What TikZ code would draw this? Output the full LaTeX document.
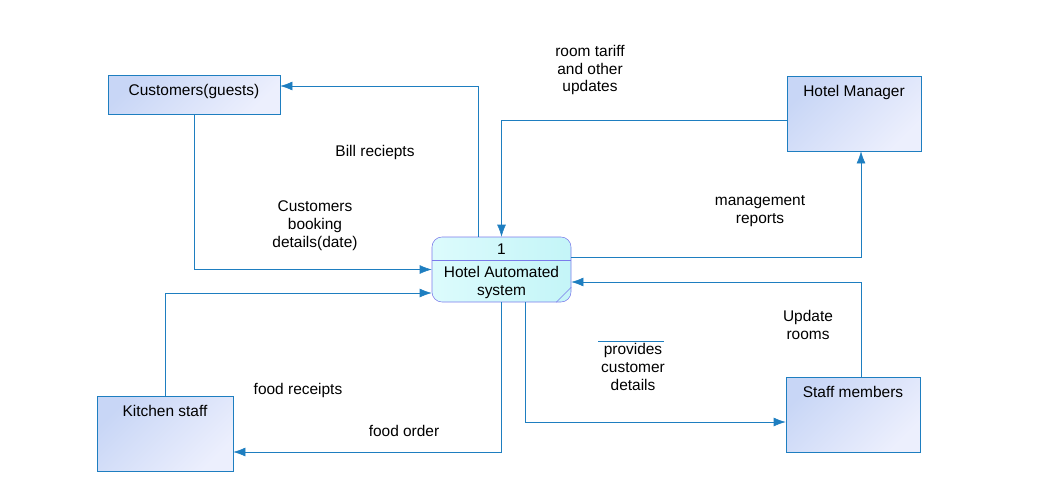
\documentclass[tikz,border=0pt]{standalone}
\usepackage{fontspec}
\setmainfont{Liberation Sans}
\usetikzlibrary{arrows.meta}
\definecolor{lineblue}{RGB}{30,126,192}
\definecolor{boxa}{RGB}{200,214,246}
\definecolor{boxb}{RGB}{236,239,253}
\definecolor{proca}{RGB}{220,251,252}
\definecolor{procb}{RGB}{196,245,248}
\definecolor{procline}{RGB}{123,123,235}

\begin{document}
\begin{tikzpicture} [font=\fontsize{11}{12.8}\selectfont,
  entity/.style={draw=lineblue, top color=boxa, bottom color=boxb, shading angle=45, inner sep=0pt},
  procbox/.style={draw=procline, left color=proca, right color=procb, rounded corners=0.25cm,
    minimum width=3.475cm, minimum height=1.625cm, inner sep=0pt},
  flow/.style={draw=lineblue, -{Latex[length=3mm,width=2.2mm]}},
  tag/.style={align=center, inner sep=0pt}]
\useasboundingbox (0,0) rectangle (26.05,-11.975);
% customers
\node [entity, minimum width=4.3cm, minimum height=0.975cm,
  label={[anchor=north, yshift=-0.12cm]north:Customers(guests)}] (cust) at (4.85,-2.3625) {};
% hotel manager
\node [entity, minimum width=3.35cm, minimum height=1.875cm,
  label={[anchor=north, yshift=-0.12cm]north:Hotel Manager}] (mgr) at (21.35,-2.8375) {};
% kitchen staff
\node [entity, minimum width=3.4cm, minimum height=1.875cm,
  label={[anchor=north, yshift=-0.12cm]north:Kitchen staff}] (kitchen) at (4.125,-10.8375) {};
% staff members
\node [entity, minimum width=3.35cm, minimum height=1.875cm,
  label={[anchor=north, yshift=-0.12cm]north:Staff members}] (staff) at (21.325,-10.3625) {};
% process
\node [procbox] (proc) at (12.5375,-6.7375) {};
\draw [procline] ([yshift=-0.6cm]proc.north west) -- ([yshift=-0.6cm]proc.north east);
\draw [procline] ([xshift=-0.375cm]proc.south east) -- ([yshift=0.375cm]proc.south east);
\node [tag] (num) at ([yshift=-0.3cm]proc.north) {1};
\node [tag] (procname) at (12.5375,-7.05) {Hotel Automated\\system};
% flows
\draw [flow] ([xshift=-0.5875cm]proc.north) |- ([yshift=0.2125cm]cust.east);
\draw [flow] (cust.south) |- (proc.west);
\draw [flow] ([yshift=-0.1625cm]mgr.west) -| (proc.north);
\draw [flow] ([yshift=0.3125cm]proc.east) -| ([xshift=0.175cm]mgr.south);
\draw [flow] ([xshift=0.2cm]staff.north) |- ([yshift=-0.3125cm]proc.east);
\draw [flow] (kitchen.north) |- ([yshift=-0.5875cm]proc.west);
\draw [flow] (proc.south) |- ([yshift=-0.4625cm]kitchen.east);
\draw [flow] ([xshift=0.5875cm]proc.south) |- ([yshift=-0.1875cm]staff.west);
% labels
\node [tag] (tariff) at (14.75,-1.75) {room tariff\\and other\\updates};
\node [tag] (bill) at (9.375,-3.8) {Bill reciepts};
\node [tag] (booking) at (7.875,-5.65) {Customers\\booking\\details(date)};
\node [tag] (reports) at (19,-5.2875) {management\\reports};
\node [tag] (update) at (20.2,-8.125) {Update\\rooms};
\node [tag] (provides) at (15.825,-9.175) {provides\\customer\\details};
\node [tag] (receipts) at (7.45,-9.75) {food receipts};
\node [tag] (order) at (10.1,-10.775) {food order};
\draw [lineblue] (14.95,-8.525) -- (16.6,-8.525);
\end{tikzpicture}
\end{document}
